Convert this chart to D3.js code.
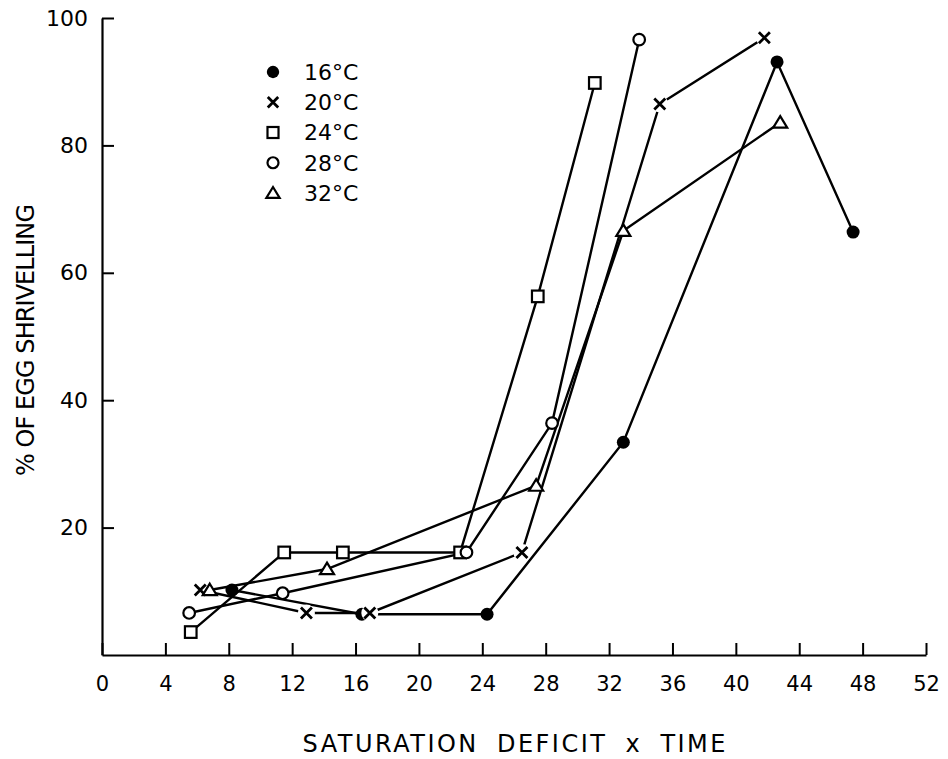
<!DOCTYPE html>
<html>
<head>
<meta charset="utf-8">
<script src="https://cdn.jsdelivr.net/npm/d3@7"></script>
<style>
  html, body { margin: 0; padding: 0; background: #fff; }
  text { font-family: "DejaVu Sans", sans-serif; fill: #000; }
</style>
</head>
<body>
<svg id="chart" width="948" height="759"></svg>
<script>
// ---- data ----
const seriesNames = ["16°C", "20°C", "24°C", "28°C", "32°C"];
const markerTypes = ["filled", "cross", "square", "circle", "triangle"];

const x16 = [8.2, 16.4, 24.3, 32.9, 42.6, 47.4];
const y16 = [10.2, 6.4, 6.4, 33.4, 93.1, 66.4];

const x20 = [6.2, 12.9, 16.9, 26.5, 35.2, 41.8];
const y20 = [10.2, 6.6, 6.6, 16.1, 86.5, 96.9];

const x24 = [5.6, 11.5, 15.2, 22.6, 27.5, 31.1];
const y24 = [3.6, 16.1, 16.1, 16.1, 56.3, 89.8];

const x28 = [5.5, 11.4, 23.0, 28.4, 33.9];
const y28 = [6.6, 9.7, 16.1, 36.4, 96.6];

const x32 = [6.8, 14.2, 27.4, 32.9, 42.8];
const y32 = [10.2, 13.5, 26.6, 66.6, 83.6];

const xTicks = [0, 4, 8, 12, 16, 20, 24, 28, 32, 36, 40, 44, 48, 52];
const yTicks = [20, 40, 60, 80, 100];

const xTitle = "SATURATION DEFICIT x TIME";
const yTitle = "% OF EGG SHRIVELLING";

// ---- build ----
const xs = [x16, x20, x24, x28, x32];
const ys = [y16, y20, y24, y28, y32];
const series = seriesNames.map((name, i) => ({
  name, type: markerTypes[i],
  pts: xs[i].map((x, j) => ({ x, y: ys[i][j] }))
}));

const svg = d3.select("#chart");
svg.append("rect").attr("width", 948).attr("height", 759).attr("fill", "#fff");

const x = d3.scaleLinear().domain([0, 52]).range([102, 926]);
const y = d3.scaleLinear().domain([0, 100]).range([655, 18]);

// axes
const xAxis = d3.axisBottom(x).tickValues(xTicks).tickSizeInner(-12).tickSizeOuter(0).tickPadding(21);
const gx = svg.append("g").attr("transform", "translate(0,655)").call(xAxis);
gx.select(".domain").attr("stroke", "#000").attr("stroke-width", 2.2);
gx.selectAll(".tick line").attr("stroke", "#000").attr("stroke-width", 2);
gx.selectAll(".tick text").attr("font-size", 21).attr("font-family", "DejaVu Sans, sans-serif").attr("dy", "0.7em");

const yAxis = d3.axisLeft(y).tickValues(yTicks).tickSizeInner(-12).tickSizeOuter(0).tickPadding(14);
const gy = svg.append("g").attr("transform", "translate(102,0)").call(yAxis);
gy.select(".domain").attr("stroke", "#000").attr("stroke-width", 2.2);
gy.selectAll(".tick line").attr("stroke", "#000").attr("stroke-width", 2);
gy.selectAll(".tick text").attr("font-size", 22).attr("font-family", "DejaVu Sans, sans-serif");

// axis titles
svg.append("text")
  .attr("x", 514).attr("y", 752)
  .attr("text-anchor", "middle")
  .attr("font-size", 24)
  .attr("textLength", 423).attr("lengthAdjust", "spacing")
  .style("word-spacing", "8px")
  .text(xTitle);

svg.append("text")
  .attr("transform", "translate(34,340) rotate(-90)")
  .attr("text-anchor", "middle")
  .attr("font-size", 24)
  .attr("textLength", 272).attr("lengthAdjust", "spacing")
  .text(yTitle);

// lines
const line = d3.line().x(d => x(d.x)).y(d => y(d.y));
svg.append("g").selectAll("path").data(series).join("path")
  .attr("d", d => line(d.pts))
  .attr("fill", "none").attr("stroke", "#000").attr("stroke-width", 2.4);

// marker drawing
function drawMarker(g, type, cx, cy, s) {
  s = s || 1;
  if (type === "filled") {
    g.append("circle").attr("cx", cx).attr("cy", cy).attr("r", 6.5 * s).attr("fill", "#000");
  } else if (type === "circle") {
    g.append("circle").attr("cx", cx).attr("cy", cy).attr("r", 5.8 * s)
      .attr("fill", "#fff").attr("stroke", "#000").attr("stroke-width", 2.2);
  } else if (type === "square") {
    const h = 5.8 * s;
    g.append("rect").attr("x", cx - h).attr("y", cy - h).attr("width", 2 * h).attr("height", 2 * h)
      .attr("fill", "#fff").attr("stroke", "#000").attr("stroke-width", 2.2);
  } else if (type === "triangle") {
    const w = 7 * s, hgt = 11.5 * s;
    g.append("path")
      .attr("d", `M${cx},${cy - hgt * 0.55} L${cx + w},${cy + hgt * 0.45} L${cx - w},${cy + hgt * 0.45} Z`)
      .attr("fill", "#fff").attr("stroke", "#000").attr("stroke-width", 2.2).attr("stroke-linejoin", "miter");
  } else if (type === "cross") {
    g.append("circle").attr("cx", cx).attr("cy", cy).attr("r", 8.5 * s).attr("fill", "#fff");
    const h = 5.5 * s;
    g.append("path")
      .attr("d", `M${cx - h},${cy - h} L${cx + h},${cy + h} M${cx + h},${cy - h} L${cx - h},${cy + h}`)
      .attr("stroke", "#000").attr("stroke-width", 2.8).attr("fill", "none");
  }
}

const gm = svg.append("g");
series.forEach(s => s.pts.forEach(p => drawMarker(gm, s.type, x(p.x), y(p.y))));

// legend
const legendY = d3.scaleLinear().domain([0, 4]).range([72, 193]);
const gl = svg.append("g");
series.forEach((s, i) => {
  drawMarker(gl, s.type, 273, legendY(i), 0.95);
  gl.append("text").attr("x", 304).attr("y", legendY(i)).attr("dy", "0.36em")
    .attr("font-size", 22).text(s.name);
});
</script>
</body>
</html>
